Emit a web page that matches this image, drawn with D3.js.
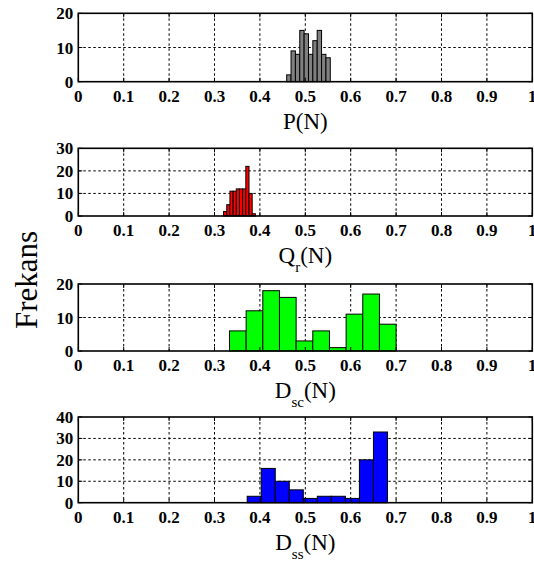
<!DOCTYPE html>
<html>
<head>
<meta charset="utf-8">
<script src="https://cdn.jsdelivr.net/npm/d3@7"></script>
<style>
  html, body { margin: 0; padding: 0; background: #fff; }
  svg { display: block; }
  text { font-family: "Liberation Serif", "Times New Roman", serif; fill: #000; }
</style>
</head>
<body>
<svg id="chart" width="534" height="569"></svg>
<script>
// Histogram data: bin range [lo, hi] and counts per bin
const xTicks = [0, 0.1, 0.2, 0.3, 0.4, 0.5, 0.6, 0.7, 0.8, 0.9, 1];

const pRange = [0.459, 0.555];
const pCounts = [2, 9, 8, 15, 14, 8, 12, 15, 8, 7];
const pYTicks = [0, 10, 20];

const qrRange = [0.320, 0.390];
const qrCounts = [2, 5, 11, 11, 12, 12, 12, 22, 10, 1];
const qrYTicks = [0, 10, 20, 30];

const dscRange = [0.333, 0.700];
const dscCounts = [6, 12, 18, 16, 3, 6, 1, 11, 17, 8];
const dscYTicks = [0, 10, 20];

const dssRange = [0.372, 0.681];
const dssCounts = [3, 16, 10, 6, 2, 3, 3, 2, 20, 33];
const dssYTicks = [0, 10, 20, 30, 40];

const svg = d3.select("#chart");
const left = 78.3, right = 532.3;

const panels = [
  { range: pRange, counts: pCounts, yTicks: pYTicks, color: "#808080", top: 13.3, bottom: 81.7,
    label: [["P", 0], ["(N)", 0]] },
  { range: qrRange, counts: qrCounts, yTicks: qrYTicks, color: "#ff0000", top: 148.3, bottom: 216,
    label: [["Q", 0], ["r", 1], ["(N)", 0]] },
  { range: dscRange, counts: dscCounts, yTicks: dscYTicks, color: "#00ff00", top: 284, bottom: 351,
    label: [["D", 0], ["sc", 1], ["(N)", 0]] },
  { range: dssRange, counts: dssCounts, yTicks: dssYTicks, color: "#0000ff", top: 417, bottom: 502.7,
    label: [["D", 0], ["ss", 1], ["(N)", 0]] }
];

panels.forEach(p => {
  const x = d3.scaleLinear().domain([0, 1]).range([left, right]);
  const yMax = p.yTicks[p.yTicks.length - 1];
  const y = d3.scaleLinear().domain([0, yMax]).range([p.bottom, p.top]);
  const g = svg.append("g");

  // dotted grid
  g.selectAll("line.gx").data(xTicks.slice(1, -1)).join("line")
    .attr("x1", d => x(d)).attr("x2", d => x(d))
    .attr("y1", p.top).attr("y2", p.bottom)
    .attr("stroke", "#000").attr("stroke-width", 1).attr("stroke-dasharray", "2.5,2.5");
  g.selectAll("line.gy").data(p.yTicks.slice(1, -1)).join("line")
    .attr("x1", left).attr("x2", right)
    .attr("y1", d => y(d)).attr("y2", d => y(d))
    .attr("stroke", "#000").attr("stroke-width", 1).attr("stroke-dasharray", "2.5,2.5");

  // histogram bars
  const n = p.counts.length;
  const w = (p.range[1] - p.range[0]) / n;
  g.selectAll("rect.bar").data(p.counts).join("rect")
    .attr("x", (d, i) => x(p.range[0] + i * w))
    .attr("width", (d, i) => x(p.range[0] + (i + 1) * w) - x(p.range[0] + i * w))
    .attr("y", d => y(d))
    .attr("height", d => y(0) - y(d))
    .attr("fill", p.color).attr("stroke", "#000").attr("stroke-width", 1);

  // inward ticks
  xTicks.forEach(t => {
    g.append("line").attr("x1", x(t)).attr("x2", x(t)).attr("y1", p.bottom).attr("y2", p.bottom - 4)
      .attr("stroke", "#000").attr("stroke-width", 1);
    g.append("line").attr("x1", x(t)).attr("x2", x(t)).attr("y1", p.top).attr("y2", p.top + 4)
      .attr("stroke", "#000").attr("stroke-width", 1);
  });
  p.yTicks.forEach(t => {
    g.append("line").attr("x1", left).attr("x2", left + 4).attr("y1", y(t)).attr("y2", y(t))
      .attr("stroke", "#000").attr("stroke-width", 1);
    g.append("line").attr("x1", right).attr("x2", right - 4).attr("y1", y(t)).attr("y2", y(t))
      .attr("stroke", "#000").attr("stroke-width", 1);
  });

  // box
  g.append("rect").attr("x", left).attr("y", p.top)
    .attr("width", right - left).attr("height", p.bottom - p.top)
    .attr("fill", "none").attr("stroke", "#000").attr("stroke-width", 1.6);

  // tick labels
  g.selectAll("text.xt").data(xTicks).join("text")
    .attr("x", d => x(d)).attr("y", p.bottom + 20)
    .attr("text-anchor", "middle").attr("font-size", 17).attr("font-weight", "bold")
    .text(d => d3.format("")(d));
  g.selectAll("text.yt").data(p.yTicks).join("text")
    .attr("x", left - 5).attr("y", d => y(d) + 6)
    .attr("text-anchor", "end").attr("font-size", 17).attr("font-weight", "bold")
    .text(d => d);

  // axis title with subscript
  const t = g.append("text").attr("x", (left + right) / 2).attr("y", p.bottom + 47)
    .attr("text-anchor", "middle").attr("font-size", 23);
  p.label.forEach(([s, sub], i) => {
    const ts = t.append("tspan").text(s);
    if (sub) ts.attr("font-size", 15).attr("dy", 9);
    else if (i > 0 && p.label[i - 1][1]) ts.attr("dy", -9);
  });
});

// shared y-axis label
svg.append("text")
  .attr("transform", "translate(37,280) rotate(-90)")
  .attr("text-anchor", "middle").attr("font-size", 31)
  .text("Frekans");
</script>
</body>
</html>
